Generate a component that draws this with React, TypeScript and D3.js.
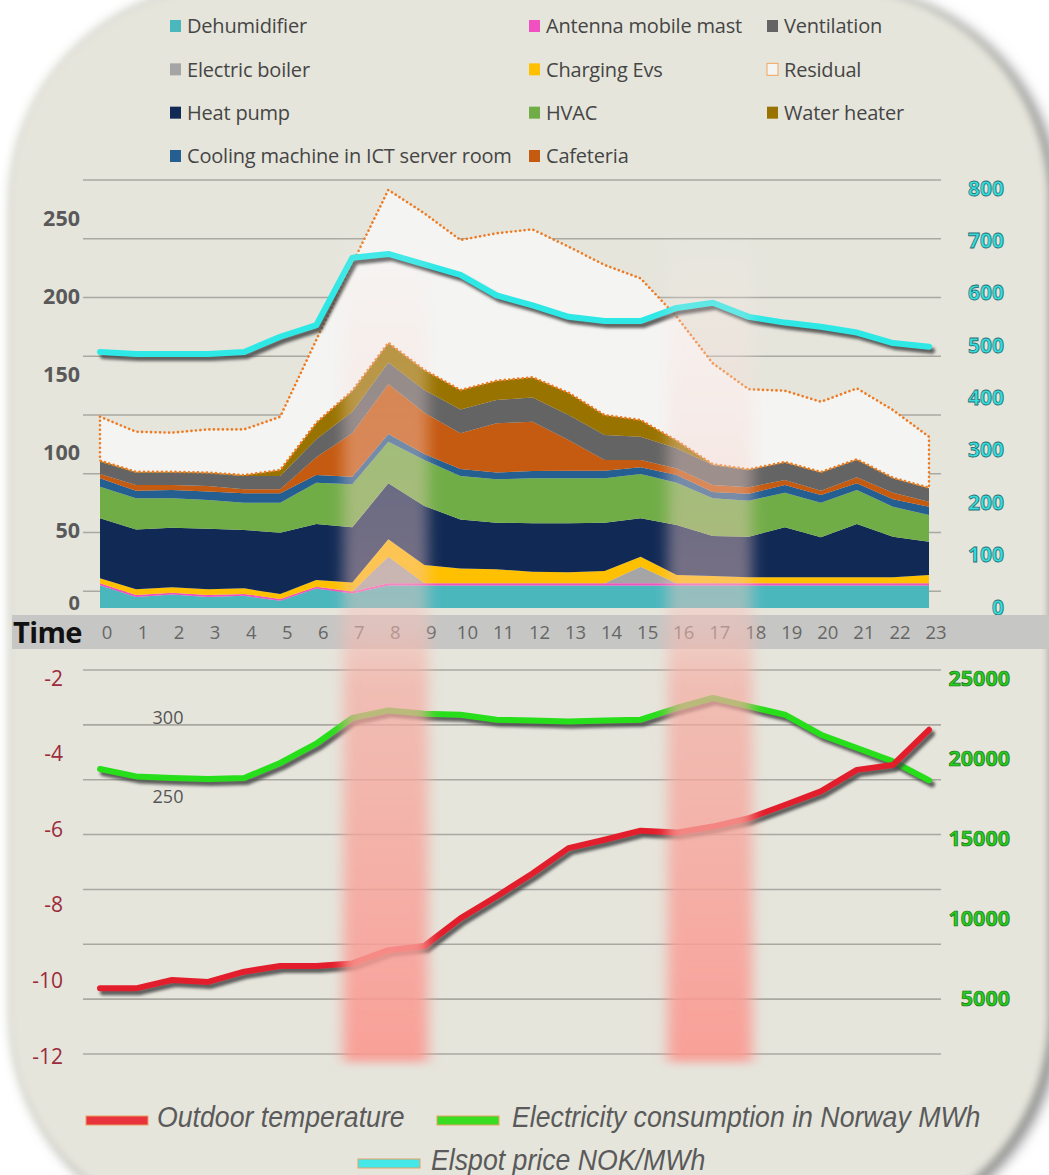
import * as d3 from 'd3';

// hours of the day
const hours = [0, 1, 2, 3, 4, 5, 6, 7, 8, 9, 10, 11, 12, 13, 14, 15, 16, 17, 18, 19, 20, 21, 22, 23];

// stacked loads (kW), bottom to top
const dehumidifier = [14.6, 7.1, 8.6, 7.1, 7.8, 4.6, 12.5, 9.3, 14.5, 14.5, 14.5, 14.5, 14.5, 14.5, 14.5, 14.5, 14.5, 14.5, 14.5, 14.5, 14.5, 14.5, 14.5, 14.5];
const antenna = [1.2, 1.2, 1.2, 1.2, 1.2, 1.2, 1.2, 1.2, 1.3, 1.3, 1.3, 1.3, 1.3, 1.3, 1.3, 1.3, 1.3, 1.3, 1.3, 1.3, 1.3, 1.3, 1.3, 1.3];
const boiler = [0, 0, 0, 0, 0, 0, 0, 0, 17.1, 0, 0, 0, 0, 0, 0, 10.7, 0, 0, 0, 0, 0, 0, 0, 0];
const charging = [3.2, 3.7, 3.5, 3.7, 3.6, 3.2, 4.2, 5.9, 11.1, 11.8, 9.6, 9.0, 7.5, 7.1, 7.9, 6.4, 5.4, 4.7, 3.9, 3.9, 3.9, 3.9, 3.9, 5.4];
const heatPump = [38.5, 38.4, 38.2, 38.8, 37.4, 39.3, 35.9, 35.3, 35.9, 37.8, 31.4, 29.9, 31.0, 31.4, 31.0, 24.6, 32.0, 25.7, 26.0, 32.0, 25.6, 34.1, 26.0, 21.3];
const hvac = [20.3, 19.9, 18.8, 18.4, 17.5, 19.2, 26.5, 27.6, 26.7, 29.5, 27.8, 27.8, 28.8, 28.8, 28.4, 28.4, 27.1, 24.1, 23.1, 22.2, 22.2, 21.8, 19.2, 17.1];
const cooling = [5.3, 4.9, 5.3, 5.4, 6.0, 6.0, 5.0, 4.9, 4.9, 3.8, 4.5, 4.3, 4.7, 4.9, 4.9, 4.3, 5.0, 4.1, 4.5, 4.9, 4.9, 4.3, 4.8, 5.3];
const cafeteria = [2.8, 3.6, 3.2, 3.6, 2.6, 2.6, 11.3, 27.8, 32.1, 26.5, 22.9, 31.6, 31.6, 19.7, 6.9, 4.7, 4.2, 4.4, 4.1, 3.3, 2.8, 3.9, 4.2, 3.2];
const ventilation = [7.9, 8.0, 8.0, 8.1, 8.5, 8.5, 11.5, 13.8, 13.7, 14.5, 15.3, 14.9, 15.6, 16.0, 16.0, 14.9, 12.9, 12.9, 11.1, 11.1, 11.6, 11.1, 9.2, 8.6];
const waterHeater = [0.7, 0.5, 0.5, 0.5, 0.6, 3.9, 10.7, 13.5, 12.8, 12.9, 12.4, 12.4, 12.9, 14.3, 12.8, 10.7, 4.9, 0.5, 0.4, 0.4, 0.4, 0.4, 0.4, 0.4];
const residual = [28.1, 25.7, 25.1, 27.7, 29.3, 34.1, 53.0, 81.4, 97.9, 100.4, 96.2, 94.5, 94.8, 93.6, 96.2, 90.8, 79.4, 64.7, 51.3, 45.7, 45.0, 45.5, 43.4, 32.7];

// lines
const elspotPrice = [487, 483, 483, 483, 487, 516, 538, 667, 674, 654, 634, 595, 576, 554, 546, 546, 571, 581, 554, 543, 535, 524, 504, 497];
const outdoorTemp = [-10.21, -10.21, -9.99, -10.04, -9.77, -9.62, -9.62, -9.55, -9.2, -9.09, -8.36, -7.78, -7.17, -6.5, -6.28, -6.04, -6.09, -5.93, -5.71, -5.36, -5.0, -4.43, -4.3, -3.37];
const consumption = [19312, 18850, 18750, 18687, 18750, 19687, 20894, 22500, 22975, 22768, 22706, 22394, 22350, 22287, 22350, 22394, 23125, 23750, 23225, 22706, 21456, 20625, 19787, 18600];

// axis ticks
const loadTicks = [0, 50, 100, 150, 200, 250];
const priceTicks = [0, 100, 200, 300, 400, 500, 600, 700, 800];
const tempTicks = [-2, -4, -6, -8, -10, -12];
const consTicks = [25000, 20000, 15000, 10000, 5000];
const strayTicks = [300, 250];
const peakHours = [[6.75, 9.1], [15.75, 18.1]];

const series = [
  { key: 'dehumidifier', name: 'Dehumidifier', color: '#4ab7bd', values: dehumidifier },
  { key: 'antenna', name: 'Antenna mobile mast', color: '#f050c0', values: antenna },
  { key: 'boiler', name: 'Electric boiler', color: '#a5a5a5', values: boiler },
  { key: 'charging', name: 'Charging Evs', color: '#ffc000', values: charging },
  { key: 'heatPump', name: 'Heat pump', color: '#112a55', values: heatPump },
  { key: 'hvac', name: 'HVAC', color: '#70ad47', values: hvac },
  { key: 'cooling', name: 'Cooling machine in ICT server room', color: '#255e91', values: cooling },
  { key: 'cafeteria', name: 'Cafeteria', color: '#c55a11', values: cafeteria },
  { key: 'ventilation', name: 'Ventilation', color: '#646464', values: ventilation },
  { key: 'waterHeater', name: 'Water heater', color: '#997300', values: waterHeater },
  { key: 'residual', name: 'Residual', color: '#f4f4f2', values: residual },
];

const legendColumns = [
  ['dehumidifier', 'boiler', 'heatPump', 'cooling'],
  ['antenna', 'charging', 'hvac', 'cafeteria'],
  ['ventilation', 'residual', 'waterHeater'],
];

const FONT = "'Open Sans', 'DejaVu Sans', sans-serif";

export default function App() {
  const W = 1049;
  const H = 1175;
  const x = d3.scaleLinear().domain([0, 23]).range([100, 929]);
  const yLoad = d3.scaleLinear().domain([0, 250]).range([608, 218]);
  const yPrice = d3.scaleLinear().domain([0, 800]).range([607, 188]);
  const yGridTop = d3.scaleLinear().domain([0, 280]).range([650, 180]);
  const yTemp = d3.scaleLinear().domain([-12, -2]).range([1056, 678]);
  const yCons = d3.scaleLinear().domain([5000, 25000]).range([998, 678]);
  const yGridBottom = d3.scaleLinear().domain([0, 7]).range([1054, 670]);
  const yStray = d3.scaleLinear().domain([250, 300]).range([797, 718]);
  const legendX = d3.scaleOrdinal<number, number>().domain([0, 1, 2]).range([170, 529, 767]);
  const legendY = d3.scaleLinear().domain([0, 3]).range([26, 156]);

  const rows = hours.map((h, i) => {
    const r: any = { hour: h };
    series.forEach(s => { r[s.key] = s.values[i]; });
    return r;
  });
  const stacked = d3.stack().keys(series.map(s => s.key))(rows);
  const area = d3.area<any>()
    .x(d => x(d.data.hour))
    .y0(d => yLoad(d[0]))
    .y1(d => yLoad(d[1]));

  const line = (ys: (v: number) => number, vals: number[]) =>
    d3.line<number>().x((_, i) => x(hours[i])).y(v => ys(v))(vals) || '';

  const gridTop = d3.range(35, 281, 35);
  const gridBottom = d3.range(0, 8);
  const byKey = new Map(series.map(s => [s.key, s]));

  const shadowLine = (d: string, color: string) => (
    <g>
      <path d={d} fill="none" stroke="#454545" strokeOpacity={0.85} strokeWidth={6}
        strokeLinejoin="round" strokeLinecap="round" transform="translate(3,4)" filter="url(#lineBlur)" />
      <path d={d} fill="none" stroke={color} strokeWidth={6} strokeLinejoin="round" strokeLinecap="round" />
    </g>
  );

  return (
    <svg width={W} height={H} viewBox={`0 0 ${W} ${H}`}
      style={{ position: 'absolute', left: 0, top: 0, display: 'block', background: '#fff' }}>
      <defs>
        <filter id="cardBlur" x="-5%" y="-5%" width="110%" height="110%">
          <feGaussianBlur stdDeviation="4" />
        </filter>
        <filter id="shadowBlur" x="-5%" y="-5%" width="110%" height="110%">
          <feGaussianBlur stdDeviation="7" />
        </filter>
        <filter id="lineBlur" x="-5%" y="-20%" width="110%" height="140%">
          <feGaussianBlur stdDeviation="1.6" />
        </filter>
        <filter id="bandBlur" filterUnits="userSpaceOnUse" x="300" y="180" width="500" height="920">
          <feGaussianBlur stdDeviation="7 5" />
        </filter>
        <linearGradient id="bandGrad" gradientUnits="userSpaceOnUse" x1="0" y1="225" x2="0" y2="1062">
          <stop offset="0" stopColor="#fff3f0" stopOpacity="0" />
          <stop offset="0.12" stopColor="#fbe6e2" stopOpacity="0.3" />
          <stop offset="0.45" stopColor="#f7c6be" stopOpacity="0.45" />
          <stop offset="0.55" stopColor="#f5aca2" stopOpacity="0.7" />
          <stop offset="1" stopColor="#fb9890" stopOpacity="0.9" />
        </linearGradient>
      </defs>

      <rect x={0} y={0} width={W} height={H} fill="#fff" />
      <rect x={16} y={-10} width={1042} height={1244} rx={215} fill="#7c7c7c" filter="url(#shadowBlur)" />
      <rect x={8} y={-14} width={1042} height={1244} rx={215} fill="#e5e5dc" filter="url(#cardBlur)" />

      {/* top legend */}
      {legendColumns.map((col, ci) => col.map((k, ri) => {
        const s = byKey.get(k)!;
        const lx = legendX(ci);
        const ly = legendY(ri);
        return (
          <g key={k}>
            <rect x={lx} y={ly - 6} width={11} height={12}
              fill={s.color} stroke={k === 'residual' ? '#f2a55a' : 'none'} strokeWidth={1} />
            <text x={lx + 17} y={ly} dy="0.36em" fontFamily={FONT} fontSize={20} fill="#454545"
              letterSpacing={-0.2}>{s.name}</text>
          </g>
        );
      }))}

      {/* top grid */}
      {gridTop.map(g => (
        <line key={g} x1={83} x2={941} y1={yGridTop(g)} y2={yGridTop(g)} stroke="#a9a9a2" strokeWidth={1.6} />
      ))}

      {/* stacked areas */}
      {stacked.map((layer, i) => {
        const s = series[i];
        const isRes = s.key === 'residual';
        return (
          <path key={s.key} d={area(layer as any) || ''} fill={s.color}
            stroke={isRes ? '#ee7b22' : 'none'} strokeWidth={isRes ? 2.6 : 0}
            strokeDasharray={isRes ? '0.1 4.4' : undefined} strokeLinecap="round" />
        );
      })}

      {/* Elspot price */}
      {shadowLine(line(yPrice, elspotPrice), '#2ee8e6')}

      {/* top axes labels */}
      {loadTicks.map(t => (
        <text key={t} x={80} y={yLoad(t) - (t === 0 ? 5 : 0)} dy="0.36em" textAnchor="end" fontFamily={FONT}
          fontWeight={700} fontSize={t === 0 ? 20 : 21.5} fill="#595959">{t}</text>
      ))}
      {priceTicks.map(t => (
        <text key={t} x={1004} y={yPrice(t)} dy="0.36em" textAnchor="end" fontFamily={FONT}
          fontWeight={700} fontSize={21} fill="#2fe0df" stroke="#2f6f72" strokeWidth={0.8}>{t}</text>
      ))}

      {/* time bar */}
      <rect x={12} y={615} width={W - 12} height={34} fill="#c6c6c4" />
      <text x={13} y={643} fontFamily={FONT} fontWeight={700} fontSize={29} fill="#111" letterSpacing={-0.6}>Time</text>
      {hours.map(h => (
        <text key={h} x={x(h) + 7} y={639} textAnchor="middle" fontFamily={FONT} fontSize={18.5} fill="#666">{h}</text>
      ))}

      {/* bottom grid */}
      {gridBottom.map(g => (
        <line key={g} x1={83} x2={941} y1={yGridBottom(g)} y2={yGridBottom(g)} stroke="#a9a9a2" strokeWidth={1.6} />
      ))}

      {shadowLine(line(yCons, consumption), '#27de1a')}
      {shadowLine(line(yTemp, outdoorTemp), '#e31e2c')}

      {/* peak highlight bands */}
      <g filter="url(#bandBlur)">
        {peakHours.map(([a, b], i) => (
          <rect key={i} x={x(a)} y={225} width={x(b) - x(a)} height={837} fill="url(#bandGrad)" />
        ))}
      </g>

      {/* bottom axes labels */}
      {tempTicks.map(t => (
        <text key={t} x={63} y={yTemp(t)} dy="0.36em" textAnchor="end" fontFamily={FONT}
          fontSize={21} fill="#9c2b3b">{t}</text>
      ))}
      {consTicks.map(t => (
        <text key={t} x={1010} y={yCons(t)} dy="0.36em" textAnchor="end" fontFamily={FONT}
          fontWeight={700} fontSize={21.5} fill="#25cc1c" stroke="#1d6f1a" strokeWidth={0.7}>{t}</text>
      ))}
      {strayTicks.map(t => (
        <text key={t} x={168} y={yStray(t)} dy="0.36em" textAnchor="middle" fontFamily={FONT}
          fontSize={18} fill="#555">{t}</text>
      ))}

      {/* bottom legend */}
      {[
        { name: 'Outdoor temperature', color: '#e8323c', sx: 86, sy: 1116, tx: 157, ty: 1127 },
        { name: 'Electricity consumption in Norway MWh', color: '#38dd22', sx: 437, sy: 1116, tx: 512, ty: 1127 },
        { name: 'Elspot price NOK/MWh', color: '#45e8e8', sx: 358, sy: 1159, tx: 431, ty: 1170 },
      ].map(l => (
        <g key={l.name}>
          <rect x={l.sx} y={l.sy} width={62} height={9} fill={l.color} stroke="#e9a060" strokeWidth={1} />
          <text transform={`translate(${l.tx},${l.ty}) scale(0.92,1)`} fontFamily="'Liberation Sans', Arial, sans-serif"
            fontStyle="italic" fontSize={29} fill="#5a5a5a">{l.name}</text>
        </g>
      ))}
    </svg>
  );
}
